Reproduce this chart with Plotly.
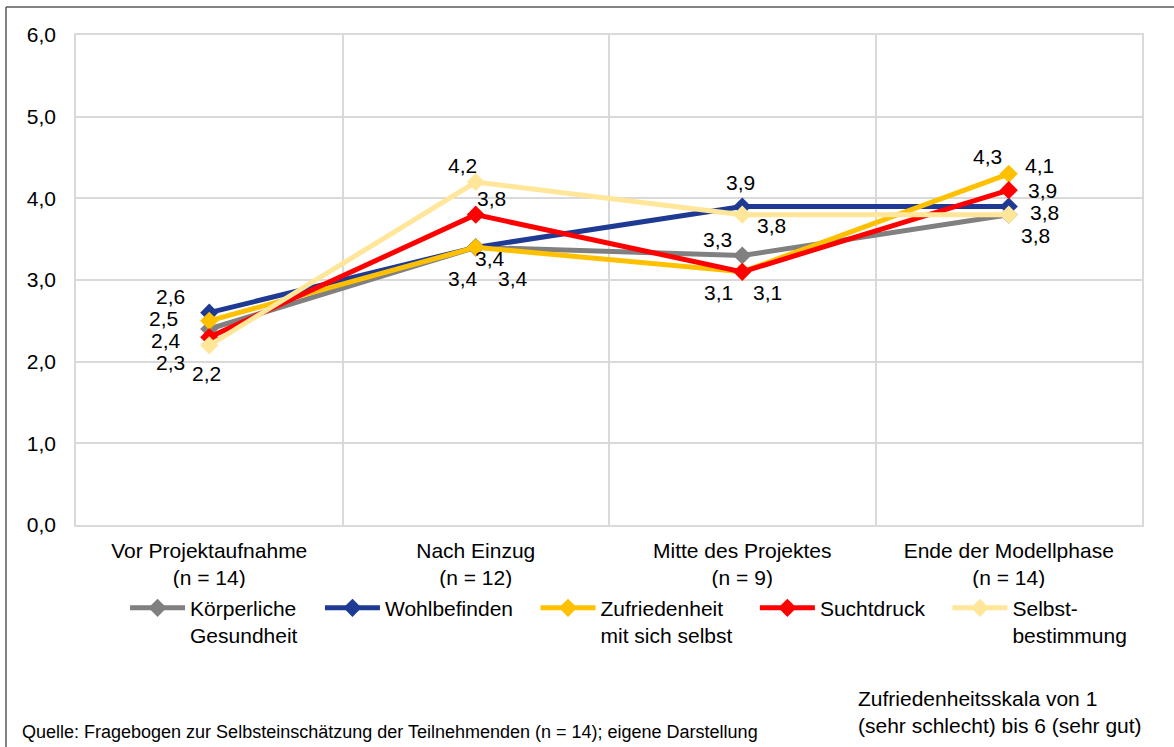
import plotly.graph_objects as go

categories = ["Vor Projektaufnahme<br>(n = 14)", "Nach Einzug<br>(n = 12)",
              "Mitte des Projektes<br>(n = 9)", "Ende der Modellphase<br>(n = 14)"]
series_names = ["Körperliche<br>Gesundheit", "Wohlbefinden", "Zufriedenheit<br>mit sich selbst",
                "Suchtdruck", "Selbst-<br>bestimmung"]
koerper = [2.4, 3.4, 3.3, 3.8]
wohl = [2.6, 3.4, 3.9, 3.9]
zufrieden = [2.5, 3.4, 3.1, 4.3]
sucht = [2.3, 3.8, 3.1, 4.1]
selbst = [2.2, 4.2, 3.8, 3.8]
values = [koerper, wohl, zufrieden, sucht, selbst]
y_ticks = [0, 1, 2, 3, 4, 5, 6]

colors = ["#808080", "#1F3A93", "#FFC000", "#FF0000", "#FFE699"]
# label offsets (px) per series, per category
offsets = [
    [(-43, 11), (-13, 31), (-25, -16), (27, 21)],
    [(-39, -16), (14, 11), (-2, -24), (34, -16)],
    [(-46, -2), (37, 31), (-24, 21), (-21, -17)],
    [(-39, 25), (16, -16), (25, 21), (31, -25)],
    [(-3, 28), (-13, -17), (29, 11), (36, -2)],
]

FONT = "Liberation Sans, Arial, sans-serif"
FS = 21
PAD = "\u00a0\u00a0\u00a0"
xs = list(range(len(categories)))
fig = go.Figure()
for name, vals, col in zip(series_names, values, colors):
    legend_name = "<br>".join(part + PAD for part in name.split("<br>"))
    fig.add_trace(go.Scatter(
        x=xs, y=vals, name=legend_name, mode="lines+markers",
        line=dict(color=col, width=5),
        marker=dict(symbol="diamond", size=14, color=col),
    ))

annotations = []
for vals, offs in zip(values, offsets):
    for xi, v, (dx, dy) in zip(xs, vals, offs):
        annotations.append(dict(
            x=xi, y=v, xref="x", yref="y", text=f"{v:.1f}".replace(".", ","),
            showarrow=False, xshift=dx, yshift=-dy,
            font=dict(family=FONT, size=FS, color="#000000")))

fig.update_layout(
    width=1174, height=747,
    margin=dict(l=76, r=32, t=35, b=222),
    paper_bgcolor="white", plot_bgcolor="white",
    separators=",.",
    font=dict(family=FONT, size=FS, color="#000000"),
    showlegend=True,
    legend=dict(orientation="h", x=0.046, y=-0.128, xanchor="left", yanchor="top",
                valign="top", font=dict(size=FS), itemwidth=55, tracegroupgap=0),
    xaxis=dict(range=[-0.5, 3.5], tickvals=xs, ticktext=categories, showgrid=False,
               minor=dict(tick0=0.5, dtick=1, showgrid=True, gridcolor="#D9D9D9", gridwidth=1.5),
               showline=True, linecolor="#D9D9D9", linewidth=1.5, mirror=True,
               zeroline=False, ticks="", ticklabelstandoff=6,
               tickfont=dict(size=FS)),
    yaxis=dict(range=[0, 6], tickvals=y_ticks, tickformat=".1f", showgrid=True,
               gridcolor="#D9D9D9", gridwidth=1.5, showline=True, linecolor="#D9D9D9",
               linewidth=1.5, mirror=True, zeroline=False, ticks="", ticklabelstandoff=14,
               tickfont=dict(size=FS)),
    annotations=annotations,
)

fig.add_annotation(text="Quelle: Fragebogen zur Selbsteinschätzung der Teilnehmenden (n = 14); eigene Darstellung",
                   xref="paper", yref="paper", x=(20 - 76) / 1066, y=(525 - 732) / 490,
                   xanchor="left", yanchor="middle", showarrow=False,
                   font=dict(family=FONT, size=18, color="#000000"))
fig.add_annotation(text="Zufriedenheitsskala von 1<br>(sehr schlecht) bis 6 (sehr gut)",
                   xref="paper", yref="paper", x=(856 - 76) / 1066, y=(525 - 712) / 490,
                   xanchor="left", yanchor="middle", align="left", showarrow=False,
                   font=dict(family=FONT, size=21, color="#000000"))

# outer frame (left and top edges)
fig.add_shape(type="line", xref="paper", yref="paper",
              x0=(6 - 76) / 1066, x1=(6 - 76) / 1066, y0=(525 - 7) / 490, y1=(525 - 760) / 490,
              line=dict(color="#595959", width=1.5))
fig.add_shape(type="line", xref="paper", yref="paper",
              x0=(6 - 76) / 1066, x1=(1180 - 76) / 1066, y0=(525 - 7) / 490, y1=(525 - 7) / 490,
              line=dict(color="#595959", width=1.5))

fig.write_html("out.html", config={"displayModeBar": False},
               post_script="document.body.style.margin='0';document.body.style.padding='0';")
